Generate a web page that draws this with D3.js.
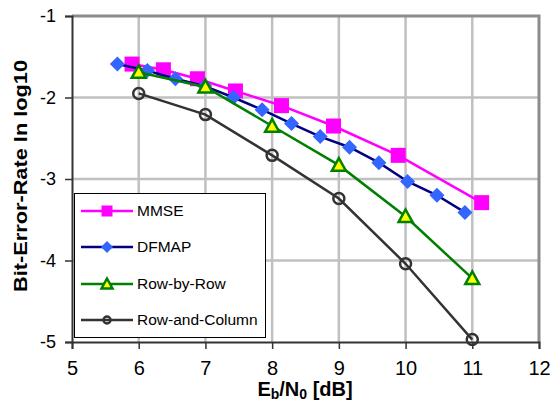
<!DOCTYPE html>
<html>
<head>
<meta charset="utf-8">
<script src="https://cdn.jsdelivr.net/npm/d3@7"></script>
<style>
  body { margin: 0; background: #fff; }
  svg { display: block; font-family: "Liberation Sans", Arial, sans-serif; }
</style>
</head>
<body>
<svg id="chart" width="553" height="402"></svg>
<script>
// values (x in dB, y in log10 BER)
var mmseX = [5.90, 6.37, 6.88, 7.45, 8.14, 8.92, 9.89, 11.14],
    mmseY = [-1.59, -1.66, -1.77, -1.92, -2.10, -2.35, -2.71, -3.29];
var dfmapX = [5.68, 6.13, 6.55, 6.99, 7.42, 7.85, 8.29, 8.72, 9.16, 9.60, 10.03, 10.47, 10.89],
    dfmapY = [-1.59, -1.67, -1.77, -1.86, -2.00, -2.15, -2.32, -2.48, -2.61, -2.80, -3.03, -3.20, -3.41];
var rowX = [6, 7, 8, 9, 10, 11],
    rowY = [-1.69, -1.87, -2.35, -2.83, -3.46, -4.22];
var rcX = [6, 7, 8, 9, 10, 11],
    rcY = [-1.95, -2.21, -2.71, -3.24, -4.04, -4.97];
var seriesNames = ['MMSE', 'DFMAP', 'Row-by-Row', 'Row-and-Column'];
var xTicks = [5, 6, 7, 8, 9, 10, 11, 12],
    yTicks = [-5, -4, -3, -2, -1];

var svg = d3.select('#chart');
var x = d3.scaleLinear().domain([5, 12]).range([72, 539]),
    y = d3.scaleLinear().domain([-5, -1]).range([342, 16]);

function zip(xs, ys){ return xs.map(function(v, i){ return [v, ys[i]]; }); }

var series = [
  {name: seriesNames[0], data: zip(mmseX, mmseY), line: '#ff00ff', shape: 'square', fill: '#ff00ff', stroke: 'none', size: 15, lsize: 11},
  {name: seriesNames[1], data: zip(dfmapX, dfmapY), line: '#000080', shape: 'diamond', fill: '#3366ff', stroke: 'none', size: 15, lsize: 12},
  {name: seriesNames[2], data: zip(rowX, rowY), line: '#008000', shape: 'triangle', fill: '#ffff00', stroke: '#008000', size: 14, lsize: 11},
  {name: seriesNames[3], data: zip(rcX, rcY), line: '#333333', shape: 'circle', fill: 'none', stroke: '#333333', size: 13, lsize: 9}
];

// grid
svg.append('g').selectAll('line.gx').data(xTicks.slice(1, -1)).enter().append('line')
    .attr('x1', x).attr('x2', x).attr('y1', y(-1)).attr('y2', y(-5))
    .attr('stroke', '#c0c0c0').attr('stroke-width', 2.5);
svg.append('g').selectAll('line.gy').data(yTicks.slice(1, -1)).enter().append('line')
    .attr('y1', y).attr('y2', y).attr('x1', x(5)).attr('x2', x(12))
    .attr('stroke', '#c0c0c0').attr('stroke-width', 2.5);

// top/right frame
svg.append('path')
    .attr('d', 'M' + x(5) + ',' + y(-1) + 'H' + x(12) + 'V' + y(-5))
    .attr('fill', 'none').attr('stroke', '#8c8c8c').attr('stroke-width', 3);

// axes
var xAxis = svg.append('g').attr('transform', 'translate(0,' + y(-5) + ')')
    .call(d3.axisBottom(x).tickValues(xTicks).tickSize(7).tickPadding(12).tickFormat(d3.format('d')));
var yAxis = svg.append('g').attr('transform', 'translate(' + x(5) + ',0)')
    .call(d3.axisLeft(y).tickValues(yTicks).tickSize(7).tickPadding(9).tickFormat(function(d){ return '-' + Math.abs(d); }));
[xAxis, yAxis].forEach(function(a){
  a.select('.domain').attr('stroke', '#333').attr('stroke-width', 2);
  a.selectAll('.tick line').attr('stroke', '#333').attr('stroke-width', 1.5);
  a.selectAll('text').attr('fill', '#000').style('font-family', '"Liberation Sans", Arial, sans-serif');
});
xAxis.selectAll('text').style('font-size', '20px');
yAxis.selectAll('text').style('font-size', '18px');

function marker(g, shape, size, fill, stroke){
  var h = size / 2, el;
  if(shape === 'square'){
    el = g.append('rect').attr('x', -h).attr('y', -h).attr('width', size).attr('height', size);
  } else if(shape === 'diamond'){
    el = g.append('path').attr('d', 'M0,' + (-h) + 'L' + h + ',0L0,' + h + 'L' + (-h) + ',0Z');
  } else if(shape === 'triangle'){
    el = g.append('path').attr('d', 'M0,' + (-h) + 'L' + h + ',' + (h * 0.8) + 'L' + (-h) + ',' + (h * 0.8) + 'Z');
  } else {
    el = g.append('circle').attr('r', h - 1);
  }
  el.attr('fill', fill).attr('stroke', stroke).attr('stroke-width', stroke === 'none' ? 0 : 2.5);
}

var line = d3.line().x(function(d){ return x(d[0]); }).y(function(d){ return y(d[1]); });

series.forEach(function(s){
  var g = svg.append('g');
  g.append('path').datum(s.data).attr('d', line)
      .attr('fill', 'none').attr('stroke', s.line).attr('stroke-width', 2.5);
  s.data.forEach(function(d){
    marker(g.append('g').attr('transform', 'translate(' + x(d[0]) + ',' + y(d[1]) + ')'), s.shape, s.size, s.fill, s.stroke);
  });
});

// legend
var leg = svg.append('g');
leg.append('rect').attr('x', 74.5).attr('y', 193.5).attr('width', 191).attr('height', 144)
    .attr('fill', '#fff').attr('stroke', '#000').attr('stroke-width', 1);
var legY = [211, 247, 284, 320];
series.forEach(function(s, i){
  var g = leg.append('g').attr('transform', 'translate(0,' + legY[i] + ')');
  g.append('line').attr('x1', 81).attr('x2', 133).attr('y1', 0).attr('y2', 0)
      .attr('stroke', s.line).attr('stroke-width', 2.5);
  marker(g.append('g').attr('transform', 'translate(107,0)'), s.shape, s.lsize, s.fill, s.stroke);
  g.append('text').attr('x', 137).attr('y', 0).attr('dy', '0.35em')
      .style('font-size', '15.5px').text(s.name);
});

// axis titles
var xt = svg.append('text').attr('x', 305).attr('y', 396).attr('text-anchor', 'middle')
    .style('font-size', '20px').style('font-weight', 'bold');
xt.append('tspan').text('E');
xt.append('tspan').attr('dy', 3).style('font-size', '14px').text('b');
xt.append('tspan').attr('dy', -3).text('/N');
xt.append('tspan').attr('dy', 3).style('font-size', '14px').text('0');
xt.append('tspan').attr('dy', -3).text(' [dB]');

svg.append('text').attr('transform', 'translate(27,176) rotate(-90)')
    .attr('text-anchor', 'middle')
    .attr('textLength', 232).attr('lengthAdjust', 'spacingAndGlyphs')
    .style('font-size', '19px').style('font-weight', 'bold')
    .text('Bit-Error-Rate In log10');
</script>
</body>
</html>
